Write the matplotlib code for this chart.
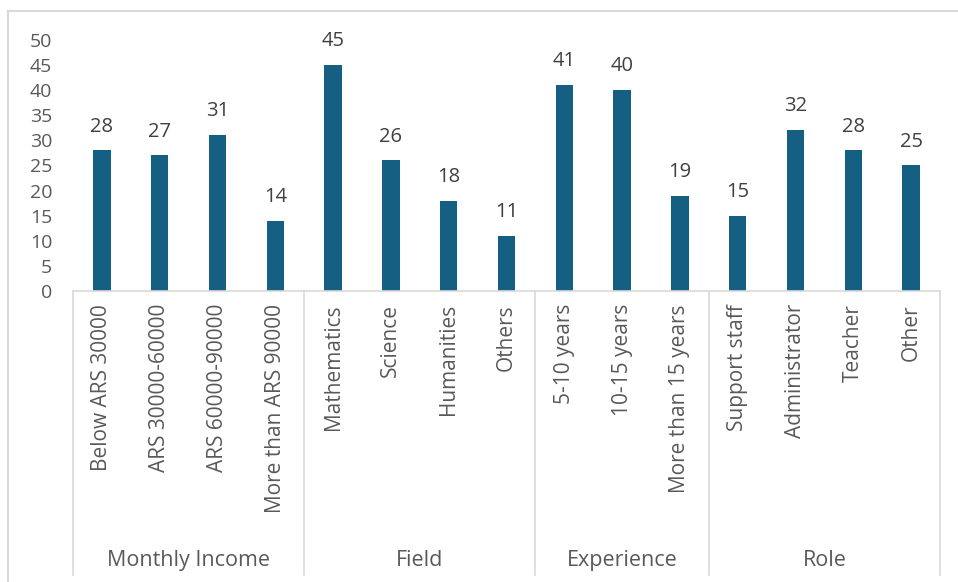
import matplotlib.pyplot as plt
from matplotlib.lines import Line2D

# survey counts by group
groups = ["Monthly Income", "Field", "Experience", "Role"]
income_labels = ["Below ARS 30000", "ARS 30000-60000", "ARS 60000-90000", "More than ARS 90000"]
income_values = [28, 27, 31, 14]
field_labels = ["Mathematics", "Science", "Humanities", "Others"]
field_values = [45, 26, 18, 11]
experience_labels = ["5-10 years", "10-15 years", "More than 15 years"]
experience_values = [41, 40, 19]
role_labels = ["Support staff", "Administrator", "Teacher", "Other"]
role_values = [15, 32, 28, 25]

sub_labels = [income_labels, field_labels, experience_labels, role_labels]
sub_values = [income_values, field_values, experience_values, role_values]

labels = [l for grp in sub_labels for l in grp]
values = [v for grp in sub_values for v in grp]

plt.rcParams['font.family'] = ['Open Sans', 'DejaVu Sans']

BAR = "#156082"
TXT = "#595959"
LINE = "#d9d9d9"

fig = plt.figure(figsize=(9.58, 5.82), dpi=100)
ax = fig.add_axes([0.0762, 0.5, 0.905, 0.4313])

x = list(range(len(values)))
bars = ax.bar(x, values, width=0.30, color=BAR, zorder=2)
for xi, v in zip(x, values):
    ax.annotate(str(v), (xi, v), xytext=(0, 10), textcoords="offset points",
                ha="center", va="bottom", fontsize=14.5, color="#404040")

ax.set_xlim(-0.5, len(values) - 0.5)
ax.set_ylim(0, 50)
ax.set_yticks(range(0, 51, 5))
ax.tick_params(axis="y", length=0, pad=15, labelsize=14, labelcolor=TXT)
ax.set_xticks([])
for s in ["top", "right", "left"]:
    ax.spines[s].set_visible(False)
ax.spines["bottom"].set_color(LINE)
ax.spines["bottom"].set_linewidth(1.2)

tr = ax.get_xaxis_transform()
for xi, lab in zip(x, labels):
    ax.text(xi, -0.052, lab, transform=tr, rotation=90, ha="center", va="top",
            fontsize=15, color=TXT)

# group separators and group names under the category labels
start = 0
edges = [-0.5]
for name, grp in zip(groups, sub_labels):
    end = start + len(grp)
    edges.append(end - 0.5)
    ax.text((start + end - 1) / 2, -1.072, name, transform=tr, ha="center",
            va="center", fontsize=15.5, color=TXT)
    start = end
for e in edges:
    ax.add_line(Line2D([e, e], [0, -1.131], transform=tr, color=LINE,
                       lw=1.2, clip_on=False))

# chart area border
fig.add_artist(Line2D([8 / 958, 1], [1 - 11 / 582, 1 - 11 / 582],
                      transform=fig.transFigure, color=LINE, lw=1.5))
fig.add_artist(Line2D([8 / 958, 8 / 958], [0, 1 - 11 / 582],
                      transform=fig.transFigure, color=LINE, lw=1.5))

fig.savefig("out.png", dpi=100)
